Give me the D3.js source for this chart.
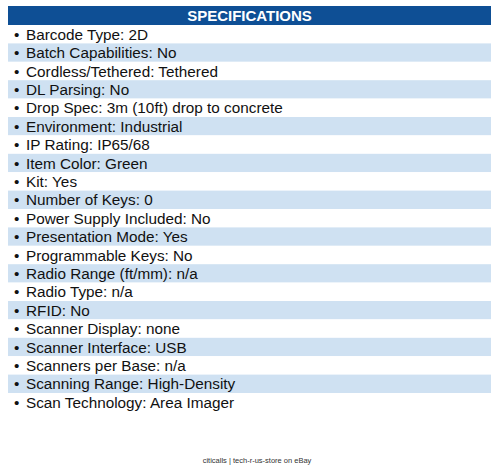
<!DOCTYPE html>
<html>
<head>
<meta charset="utf-8">
<script src="https://cdn.jsdelivr.net/npm/d3@7"></script>
<style>
  html, body { margin: 0; padding: 0; background: #fff; }
  svg { display: block; font-family: "Liberation Sans", Arial, sans-serif; }
</style>
</head>
<body>
<div id="specs"></div>
<script>
const title = "SPECIFICATIONS";
const footer = "citicalls | tech-r-us-store on eBay";

const specNames = [
  "Barcode Type", "Batch Capabilities", "Cordless/Tethered", "DL Parsing",
  "Drop Spec", "Environment", "IP Rating", "Item Color", "Kit",
  "Number of Keys", "Power Supply Included", "Presentation Mode",
  "Programmable Keys", "Radio Range (ft/mm)", "Radio Type", "RFID",
  "Scanner Display", "Scanner Interface", "Scanners per Base",
  "Scanning Range", "Scan Technology"
];
const specValues = [
  "2D", "No", "Tethered", "No",
  "3m (10ft) drop to concrete", "Industrial", "IP65/68", "Green", "Yes",
  "0", "No", "Yes",
  "No", "n/a", "n/a", "No",
  "none", "USB", "n/a",
  "High-Density", "Area Imager"
];

const width = 500, height = 470;
const m = {left: 8, right: 9, top: 6};
const headH = 19, rowH = 18.4;

const svg = d3.select("#specs").append("svg")
  .attr("width", width)
  .attr("height", height);

const rows = specNames.map((n, i) => ({name: n, value: specValues[i], i}));

const y = d3.scaleBand()
  .domain(rows.map(d => d.i))
  .range([m.top + headH, m.top + headH + rowH * rows.length])
  .paddingInner(0);

// header bar
svg.append("rect")
  .attr("x", m.left).attr("y", m.top)
  .attr("width", width - m.left - m.right).attr("height", headH)
  .attr("fill", "#0e4f95");

svg.append("text")
  .attr("x", (m.left + width - m.right) / 2)
  .attr("y", m.top + headH / 2)
  .attr("dy", "0.36em")
  .attr("text-anchor", "middle")
  .attr("fill", "#fff")
  .attr("font-weight", "bold")
  .attr("font-size", 15)
  .text(title);

// rows
const g = svg.selectAll(".row")
  .data(rows)
  .join("g")
  .attr("class", "row")
  .attr("transform", d => `translate(0,${y(d.i)})`);

g.append("rect")
  .attr("x", m.left)
  .attr("width", width - m.left - m.right)
  .attr("height", y.bandwidth())
  .attr("fill", d => d.i % 2 ? "#cfe1f2" : "#fff");

g.append("text")
  .attr("x", 14)
  .attr("y", y.bandwidth() / 2)
  .attr("dy", "0.36em")
  .attr("font-size", 15.3)
  .attr("fill", "#111")
  .text("•");

g.append("text")
  .attr("x", 26)
  .attr("y", y.bandwidth() / 2)
  .attr("dy", "0.36em")
  .attr("font-size", 15.3)
  .attr("fill", "#111")
  .text(d => `${d.name}: ${d.value}`);

// footer
svg.append("text")
  .attr("x", 257)
  .attr("y", 460)
  .attr("dy", "0.35em")
  .attr("text-anchor", "middle")
  .attr("font-size", 7.5)
  .attr("fill", "#333")
  .text(footer);
</script>
</body>
</html>
